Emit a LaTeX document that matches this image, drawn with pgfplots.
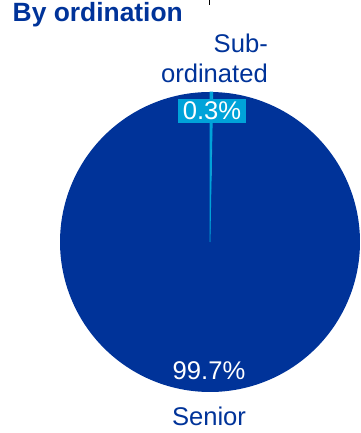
\documentclass[border=0pt]{standalone}
\usepackage{pgfplots}
\pgfplotsset{compat=1.18}
\usepackage{pgfplotstable}
\usepackage{fontspec}
\setmainfont{Liberation Sans}
\definecolor{darkblue}{RGB}{0,51,153}
\definecolor{lightblue}{RGB}{0,163,217}
\pgfplotstableread{
label value
Subordinated 0.3
Senior 99.7
}\piedata
\begin{document}
\begin{tikzpicture}
\pgfplotstablegetelem{0}{value}\of\piedata \let\vA\pgfplotsretval
\pgfmathsetmacro{\aA}{3.6*\vA}
\begin{axis}[scale only axis, width=361bp, height=433bp,
  xmin=0, xmax=361, ymin=0, ymax=433, hide axis, clip=false]
% Senior slice
\addplot[fill=darkblue, draw=none, domain=\aA:360, samples=240, variable=\t]
  ({210+150*sin(t)}, {191+150*cos(t)}) -- (axis cs:210,191) -- cycle;
% Subordinated slice
\addplot[fill=lightblue, draw=lightblue, line width=0.7bp, domain=0:\aA, samples=5, variable=\t]
  ({210+150*sin(t)}, {191+150*cos(t)}) -- (axis cs:210,191) -- cycle;
% labels
\node[anchor=base west, text=darkblue, inner sep=0pt, font=\fontsize{26.4bp}{30bp}\selectfont\bfseries] at (axis cs:12.5,411) {By ordination};
\node[anchor=base east, text=darkblue, inner sep=0pt, font=\fontsize{25.6bp}{30bp}\selectfont] at (axis cs:268,380) {Sub-};
\node[anchor=base east, text=darkblue, inner sep=0pt, font=\fontsize{25.6bp}{30bp}\selectfont] at (axis cs:268,350) {ordinated};
\fill[lightblue] (axis cs:178,310) rectangle (axis cs:246,334);
\node[anchor=base, text=white, inner sep=0pt, font=\fontsize{25.6bp}{30bp}\selectfont] at (axis cs:212,313) {0.3\%};
\node[anchor=base, text=white, inner sep=0pt, font=\fontsize{25.6bp}{30bp}\selectfont] at (axis cs:209,53) {99.7\%};
\node[anchor=base, text=darkblue, inner sep=0pt, font=\fontsize{25.6bp}{30bp}\selectfont] at (axis cs:209,8) {Senior};
\draw[black, line width=1bp] (axis cs:209,433) -- (axis cs:209,428);
\end{axis}
\pgfresetboundingbox
\useasboundingbox (current axis.south west) rectangle (current axis.north east);
\end{tikzpicture}
\end{document}
